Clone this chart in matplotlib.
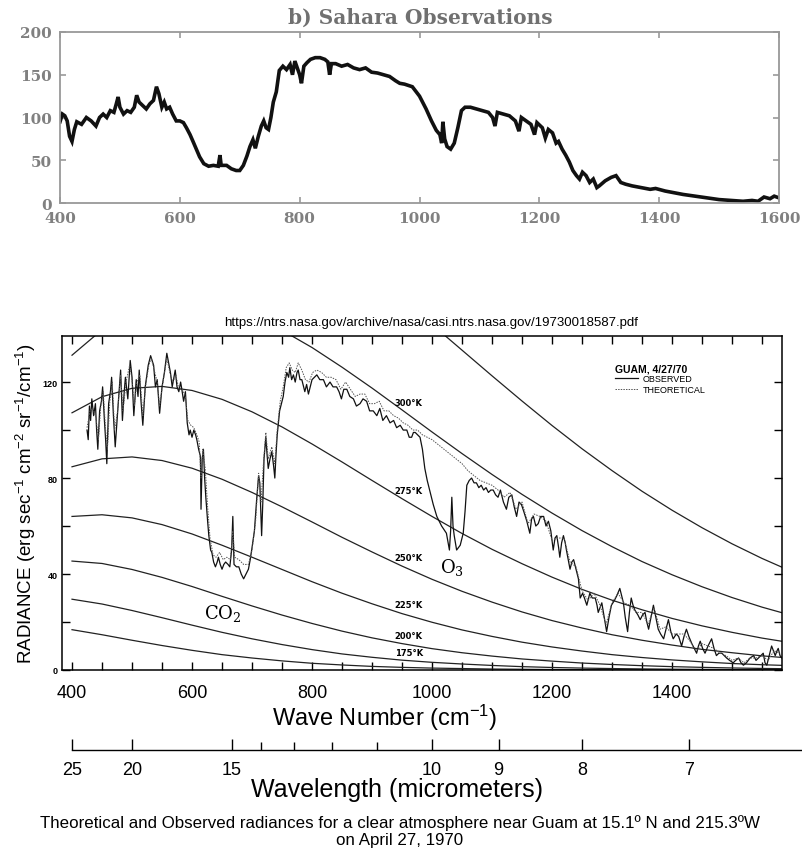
import matplotlib
matplotlib.use("Agg")
import matplotlib.pyplot as plt
from matplotlib.ticker import FixedLocator, NullFormatter
from matplotlib import font_manager

# ---- b) Sahara observations (top panel) ----
sahara_wn = [400, 404, 408, 412, 416, 420, 424, 428, 436, 444, 452, 460, 466, 472, 478, 484,
             490, 494, 497, 500, 506, 512, 518, 524, 528, 532, 538, 544, 550, 556, 561, 565,
             570, 574, 578, 583, 588, 594, 600, 606, 611, 617, 622, 628, 633, 640, 648, 656,
             664, 667, 669, 678, 686, 694, 700, 706, 712, 717, 722, 726, 731, 736, 740, 744,
             748, 752, 756, 761, 766, 772, 778, 784, 788, 792, 796, 800, 803, 807, 812, 818,
             826, 834, 842, 847, 850, 853, 860, 870, 880, 890, 900, 910, 920, 930, 940, 950,
             960, 967, 975, 988, 1000, 1011, 1020, 1028, 1034, 1037, 1039, 1042, 1046, 1052,
             1058, 1064, 1070, 1076, 1085, 1095, 1105, 1115, 1122, 1126, 1130, 1140, 1150,
             1160, 1166, 1170, 1178, 1186, 1192, 1196, 1205, 1210, 1215, 1222, 1228, 1232,
             1238, 1244, 1250, 1256, 1262, 1267, 1272, 1278, 1284, 1290, 1296, 1300, 1310,
             1320, 1328, 1336, 1344, 1355, 1370, 1385, 1394, 1410, 1425, 1440, 1460, 1480,
             1500, 1520, 1540, 1555, 1565, 1575, 1585, 1592, 1600]
sahara_rad = [95, 104, 102, 96, 78, 72, 86, 95, 92, 100, 96, 90, 100, 104, 100, 108,
              106, 116, 124, 112, 104, 108, 106, 112, 126, 118, 114, 110, 116, 120, 136, 128,
              112, 118, 110, 112, 104, 96, 96, 94, 88, 80, 72, 62, 54, 46, 43, 44,
              43, 56, 44, 44, 40, 38, 38, 44, 55, 66, 74, 64, 78, 90, 96, 88,
              86, 100, 118, 130, 155, 160, 156, 162, 150, 166, 158, 150, 140, 160, 164, 168,
              170, 170, 168, 165, 150, 163, 163, 160, 162, 158, 156, 158, 153, 152, 150, 148,
              143, 140, 139, 136, 125, 110, 96, 85, 80, 70, 95, 75, 66, 63,
              70, 88, 108, 112, 112, 110, 108, 106, 100, 90, 106, 104, 102,
              96, 84, 100, 96, 92, 80, 94, 88, 76, 86, 82, 70, 72,
              63, 56, 48, 38, 32, 28, 36, 32, 24, 28, 18, 20, 26,
              30, 32, 24, 22, 20, 18, 16, 17, 14, 12, 10, 8, 6,
              4, 3, 2, 3, 2, 7, 5, 8, 6]
sahara_xticks = [400, 600, 800, 1000, 1200, 1400, 1600]
sahara_yticks = [0, 50, 100, 150, 200]

# ---- Guam, 4/27/70 (bottom panel) ----
guam_wn = [425, 427, 429, 431, 433, 436, 439, 441, 443, 446, 449, 451, 454, 456, 458, 461,
           464, 466, 469, 472, 475, 477, 481, 484, 487, 489, 493, 497, 500, 503, 507, 510,
           512, 515, 518, 522, 527, 531, 536, 539, 542, 546, 550, 554, 558, 561, 564, 567,
           572, 575, 578, 581, 583, 586, 589, 592, 595, 597, 600, 603, 606, 608, 611, 614,
           615, 617, 619, 621, 623, 626, 628, 631, 633, 636, 639, 642, 644, 647, 650, 653,
           656, 660, 663, 666, 668, 670, 674, 678, 682, 686, 690, 694, 697, 700, 704, 708,
           711, 713, 716, 718, 720, 723, 725, 727, 730, 733, 736, 738, 740, 742, 746, 749,
           752, 755, 758, 761, 763, 766, 769, 772, 775, 777, 780, 783, 786, 788, 791, 794,
           797, 800, 804, 808, 813, 819, 824, 830, 835, 841, 845, 849, 853, 858, 863, 869,
           874, 880, 885, 891, 896, 902, 908, 913, 918, 924, 930, 936, 941, 947, 952, 958,
           962, 966, 969, 972, 976, 980, 984, 988, 992, 997, 1002, 1008, 1016, 1024, 1029,
           1031, 1033, 1035, 1037, 1041, 1047, 1052, 1055, 1058, 1062, 1066, 1070, 1074,
           1078, 1082, 1086, 1090, 1094, 1098, 1102, 1106, 1110, 1114, 1119, 1124, 1128,
           1133, 1137, 1141, 1145, 1149, 1153, 1158, 1163, 1166, 1169, 1173, 1177, 1181,
           1186, 1190, 1194, 1198, 1202, 1205, 1208, 1211, 1213, 1216, 1219, 1222, 1224,
           1227, 1230, 1233, 1236, 1240, 1244, 1247, 1251, 1254, 1258, 1263, 1267, 1272,
           1275, 1277, 1280, 1283, 1287, 1291, 1295, 1299, 1304, 1308, 1313, 1316, 1319,
           1322, 1326, 1329, 1332, 1335, 1338, 1343, 1347, 1351, 1355, 1358, 1361, 1365,
           1369, 1373, 1377, 1381, 1386, 1390, 1394, 1398, 1402, 1407, 1411, 1416, 1420,
           1424, 1428, 1433, 1437, 1441, 1444, 1447, 1451, 1455, 1460, 1466, 1470, 1474,
           1478, 1483, 1487, 1491, 1496, 1502, 1506, 1511, 1515, 1519, 1524, 1530, 1536,
           1540, 1544, 1548, 1552, 1555, 1558, 1562, 1566, 1569, 1572, 1575, 1577, 1580, 1583]
guam_obs = [100, 96, 110, 104, 113, 106, 111, 100, 92, 108, 112, 118, 104, 96, 86, 111,
            116, 122, 106, 93, 104, 111, 125, 104, 116, 122, 113, 129, 122, 106, 121, 114,
            125, 112, 102, 118, 127, 131, 127, 118, 121, 107, 118, 124, 132, 128, 124, 118,
            125, 118, 116, 120, 117, 112, 116, 103, 98, 100, 97, 100, 98, 96, 92, 89,
            67, 88, 92, 80, 72, 62, 56, 50, 49, 45, 43, 45, 47, 44, 42, 44,
            45, 44, 43, 50, 64, 44, 43, 43, 40, 38, 40, 42, 46, 51, 58, 72,
            81, 78, 56, 70, 88, 97, 90, 84, 88, 91, 85, 80, 90, 98, 108, 111,
            114, 120, 124, 122, 126, 121, 123, 120, 124, 125, 121, 121, 118, 116, 119, 115,
            118, 121, 122, 123, 121, 121, 118, 120, 118, 118, 116, 113, 117, 117, 114, 113,
            110, 111, 113, 112, 108, 108, 106, 109, 104, 106, 103, 104, 101, 102, 100, 100,
            97, 97, 99, 99, 98, 97, 92, 84, 79, 74, 69, 64, 60, 57, 50,
            58, 72, 60, 56, 50, 52, 57, 66, 77, 79, 80, 78, 78,
            76, 77, 75, 76, 74, 75, 75, 73, 72, 75, 70, 67, 72,
            73, 68, 64, 70, 69, 66, 62, 57, 63, 64, 60, 61, 64,
            64, 60, 62, 58, 50, 55, 56, 51, 47, 53, 56, 53, 50,
            46, 42, 45, 46, 42, 38, 30, 32, 30, 27, 32, 30, 30,
            27, 24, 26, 28, 22, 16, 22, 27, 29, 31, 34, 31, 28,
            22, 16, 24, 30, 27, 25, 23, 21, 23, 24, 20, 17, 22,
            27, 22, 17, 15, 13, 17, 21, 16, 13, 15, 14, 10, 14,
            17, 14, 11, 9, 7, 10, 12, 9, 7, 10, 13, 9, 6,
            7, 7, 6, 5, 4, 3, 4, 5, 3, 2, 3, 5, 6,
            4, 5, 6, 7, 3, 2, 6, 10, 8, 6, 8, 9, 6, 5]

theo_wn = [425, 430, 435, 440, 444, 448, 452, 456, 459, 463, 467, 471, 476, 481, 485, 490,
           496, 500, 504, 508, 513, 518, 523, 528, 532, 537, 542, 546, 551, 558, 563, 568,
           573, 578, 584, 589, 593, 598, 603, 608, 612, 615, 618, 622, 626, 630, 635, 640,
           646, 652, 658, 664, 668, 671, 678, 686, 694, 700, 706, 711, 715, 719, 723, 727,
           733, 738, 742, 747, 752, 757, 762, 767, 772, 777, 783, 789, 795, 801, 808, 816,
           824, 832, 840, 848, 856, 864, 872, 880, 888, 896, 904, 912, 920, 928, 936, 944,
           952, 960, 968, 976, 984, 992, 1000, 1010, 1020, 1030, 1040, 1050, 1060, 1070,
           1080, 1090, 1100, 1110, 1120, 1130, 1140, 1150, 1160, 1170, 1180, 1190, 1200,
           1210, 1220, 1230, 1240, 1250, 1260, 1270, 1280, 1290, 1300, 1310, 1320, 1330,
           1340, 1350, 1360, 1370, 1380, 1390, 1400, 1410, 1420, 1430, 1440, 1450, 1460,
           1470, 1480, 1490, 1500, 1510, 1520, 1530, 1540, 1550, 1560, 1570, 1580]
theo_rad = [101, 108, 109, 105, 96, 110, 116, 100, 92, 112, 120, 100, 108, 123, 108, 120,
            127, 121, 110, 120, 123, 106, 119, 127, 130, 125, 120, 110, 119, 130, 124, 120,
            123, 117, 117, 114, 104, 102, 101, 98, 95, 80, 92, 84, 68, 55, 48, 47,
            49, 46, 47, 46, 58, 47, 46, 44, 44, 50, 62, 82, 70, 86, 99, 88,
            93, 86, 100, 112, 118, 126, 128, 125, 124, 128, 125, 121, 120, 124, 125, 124,
            122, 122, 121, 117, 120, 117, 114, 115, 115, 111, 111, 112, 108, 108, 106, 105,
            103, 102, 100, 100, 98, 97, 96, 94, 92, 90, 88, 86, 83, 81,
            79, 78, 77, 75, 72, 74, 67, 70, 61, 65, 64, 62, 54,
            55, 55, 45, 43, 33, 29, 32, 27, 19, 28, 32, 28, 27,
            24, 24, 19, 26, 17, 18, 15, 15, 15, 12, 8, 11, 10,
            9, 7, 6, 4, 5, 3, 5, 5, 6, 4, 8, 7]

# blackbody curves
bb_wn = [400, 450, 500, 550, 600, 650, 700, 750, 800, 850, 900, 950, 1000,
         1050, 1100, 1150, 1200, 1250, 1300, 1350, 1400, 1450, 1500, 1550, 1600]
bb_300 = [131.2, 141.8, 148.9, 152.7, 153.4, 151.5, 147.4, 141.6, 134.4, 126.2, 117.5, 108.4, 99.2,
          90.2, 81.5, 73.2, 65.4, 58.1, 51.4, 45.2, 39.7, 34.7, 30.2, 26.2, 22.7]
bb_275 = [107.2, 113.9, 117.4, 118.2, 116.5, 112.8, 107.6, 101.3, 94.2, 86.7, 79.0, 71.4, 64.0,
          56.9, 50.3, 44.3, 38.7, 33.6, 29.1, 25.1, 21.5, 18.4, 15.7, 13.3, 11.3]
bb_250 = [84.7, 88.0, 88.8, 87.3, 84.1, 79.5, 74.0, 68.0, 61.7, 55.3, 49.2, 43.3, 37.8,
          32.8, 28.3, 24.2, 20.6, 17.5, 14.7, 12.4, 10.4, 8.6, 7.2, 5.9, 4.9]
bb_225 = [64.0, 64.7, 63.4, 60.6, 56.7, 52.0, 47.0, 41.9, 36.8, 32.0, 27.6, 23.5, 19.9,
          16.7, 14.0, 11.6, 9.6, 7.9, 6.4, 5.2, 4.2, 3.4, 2.7, 2.2, 1.8]
bb_200 = [45.4, 44.4, 41.9, 38.6, 34.8, 30.7, 26.7, 22.9, 19.4, 16.2, 13.4, 11.0, 8.9,
          7.2, 5.8, 4.6, 3.7, 2.9, 2.3, 1.8, 1.4, 1.1, 0.85, 0.65, 0.5]
bb_175 = [29.5, 27.5, 24.8, 21.8, 18.7, 15.7, 13.0, 10.6, 8.5, 6.7, 5.3, 4.1, 3.2,
          2.5, 1.9, 1.4, 1.05, 0.8, 0.6, 0.45, 0.33, 0.25, 0.18, 0.13, 0.1]
bb_150 = [16.8, 14.7, 12.4, 10.2, 8.2, 6.4, 5.0, 3.8, 2.8, 2.1, 1.5, 1.1, 0.8,
          0.6, 0.4, 0.3, 0.2, 0.15, 0.1, 0.08, 0.05, 0.04, 0.03, 0.02, 0.01]
bb_325_wn = [950, 1000, 1050, 1100, 1150, 1200, 1250, 1300, 1350, 1400, 1450, 1500, 1550, 1600]
bb_325 = [154.6, 144.0, 133.3, 122.6, 112.1, 101.9, 92.2, 83.1, 74.5, 66.6, 59.3, 52.6, 46.5, 41.0]
bb_labels = ["300°K", "275°K", "250°K", "225°K", "200°K", "175°K"]

guam_xticks = [400, 600, 800, 1000, 1200, 1400]
guam_yticks = [0, 40, 80, 120]
wavelength_major = [25, 20, 15, 10, 9, 8, 7]
wavelength_minor = [14, 13, 12, 11]

names = {f.name for f in font_manager.fontManager.ttflist}
SANS = "Liberation Sans"
NARROW = "Liberation Sans Narrow" if "Liberation Sans Narrow" in names else SANS

plt.rcParams["font.family"] = [SANS, "DejaVu Sans"]
plt.rcParams["mathtext.fontset"] = "custom"
plt.rcParams["mathtext.rm"] = SANS
plt.rcParams["mathtext.default"] = "regular"

W, H = 802, 854
fig = plt.figure(figsize=(W / 100, H / 100), dpi=100)


def box(left, top, right, bottom):
    return [left / W, 1 - bottom / H, (right - left) / W, (bottom - top) / H]


# ---------------- top panel ----------------
ax1 = fig.add_axes(box(60, 33, 779, 204))
ax1.plot(sahara_wn, sahara_rad, color="#111111", lw=2.6, solid_joinstyle="miter")
ax1.set_xlim(400, 1600)
ax1.set_ylim(0, 200)
ax1.set_xticks(sahara_xticks)
ax1.set_yticks(sahara_yticks)
ax1.tick_params(direction="in", top=True, right=True, length=4, width=1.2,
                color="#999999", labelcolor="#808080", labelsize=11, pad=6)
for lab in ax1.get_xticklabels() + ax1.get_yticklabels():
    lab.set_fontfamily("DejaVu Serif")
    lab.set_fontweight("bold")
for sp in ax1.spines.values():
    sp.set_color("#999999")
    sp.set_linewidth(1.3)
fig.text(420 / W, 1 - 18 / H, "b) Sahara Observations", ha="center", va="center",
         fontsize=14.5, fontweight="bold", family="DejaVu Serif", color="#707070")

# ---------------- bottom panel ----------------
ax2 = fig.add_axes(box(62, 337, 782, 671))
bb_sets = [(bb_wn, bb_150), (bb_wn, bb_175), (bb_wn, bb_200), (bb_wn, bb_225),
           (bb_wn, bb_250), (bb_wn, bb_275), (bb_wn, bb_300), (bb_325_wn, bb_325)]
for xs, ys in bb_sets:
    ax2.plot(xs, ys, color="#222222", lw=0.9)
l_obs, = ax2.plot(guam_wn, guam_obs, color="#111111", lw=0.9)
l_theo, = ax2.plot(theo_wn, theo_rad, color="#555555", lw=0.7, ls=(0, (1.5, 1.2)))

ax2.set_xlim(383.3, 1583.3)
ax2.set_ylim(0, 139.2)
ax2.xaxis.set_major_locator(FixedLocator(guam_xticks))
ax2.xaxis.set_minor_locator(FixedLocator([w for w in range(400, 1600, 50) if w not in guam_xticks]))
ax2.yaxis.set_major_locator(FixedLocator(guam_yticks))
ax2.yaxis.set_minor_locator(FixedLocator([20, 60, 100]))
ax2.tick_params(which="both", direction="in", top=True, right=True, length=6, width=1.0)
ax2.tick_params(axis="x", labelsize=13, pad=10)
ax2.tick_params(axis="y", labelsize=6.5, pad=3)
for lab in ax2.get_yticklabels():
    lab.set_fontweight("bold")
for sp in ax2.spines.values():
    sp.set_linewidth(1.1)

label_y = [111.5, 75.0, 47.0, 27.5, 14.5, 7.5]
for txt, yy in zip(bb_labels, label_y):
    ax2.text(938, yy, txt, fontsize=6, fontweight="bold", va="center", ha="left",
             family="DejaVu Sans")

ax2.text(652, 24, "CO$_2$", ha="center", va="center", fontsize=13, family="DejaVu Serif",
         math_fontfamily="dejavuserif")
ax2.text(1033, 43, "O$_3$", ha="center", va="center", fontsize=13, family="DejaVu Serif",
         math_fontfamily="dejavuserif")

leg = ax2.legend([l_obs, l_theo], ["OBSERVED", "THEORETICAL"], title="GUAM, 4/27/70",
                 loc="upper left", bbox_to_anchor=((615 - 62) / 720, (671 - 364) / 334),
                 frameon=False, fontsize=6.5, handlelength=2.6, handletextpad=0.5,
                 labelspacing=0.15, borderpad=0, borderaxespad=0, alignment="left",
                 title_fontproperties={"weight": "bold", "size": 7.5})

fig.text(431 / W, 1 - 323 / H,
         "https://ntrs.nasa.gov/archive/nasa/casi.ntrs.nasa.gov/19730018587.pdf",
         ha="center", va="center", fontsize=9.5)
fig.text(26 / W, 1 - 504 / H,
         "RADIANCE (erg sec$^{-1}$ cm$^{-2}$ sr$^{-1}$/cm$^{-1}$)",
         rotation=90, ha="center", va="center", fontsize=13.5)
fig.text(385 / W, 1 - 718 / H, "Wave Number (cm$^{-1}$)", ha="center", va="center",
         fontsize=17)

# ---------------- wavelength scale ----------------
ax3 = fig.add_axes(box(62, 750, 802, 751))
ax3.set_xlim(383.3, 1616.7)
ax3.set_ylim(0, 1)
ax3.patch.set_visible(False)
for side in ["left", "right", "top"]:
    ax3.spines[side].set_visible(False)
ax3.spines["bottom"].set_bounds(10000 / wavelength_major[0], 1616.7)
ax3.spines["bottom"].set_linewidth(1.0)
ax3.set_yticks([])
ax3.xaxis.set_major_locator(FixedLocator([10000 / w for w in wavelength_major]))
ax3.set_xticklabels([str(w) for w in wavelength_major])
ax3.xaxis.set_minor_locator(FixedLocator([10000 / w for w in wavelength_minor]))
ax3.xaxis.set_minor_formatter(NullFormatter())
ax3.tick_params(which="major", direction="in", length=8, width=1.0, labelsize=13, pad=8)
ax3.tick_params(which="minor", direction="in", length=6, width=1.0)
for lab in ax3.get_xticklabels():
    lab.set_fontfamily(NARROW)
fig.text(397 / W, 1 - 790 / H, "Wavelength (micrometers)", ha="center", va="center",
         fontsize=18, family=NARROW)

fig.text(400 / W, 1 - 823 / H,
         "Theoretical and Observed radiances for a clear atmosphere near Guam at 15.1º N and 215.3ºW",
         ha="center", va="center", fontsize=12.2, family=NARROW)
fig.text(400 / W, 1 - 841 / H, "on April 27, 1970", ha="center", va="center",
         fontsize=12.2, family=NARROW)

fig.savefig("out.png", dpi=100)
